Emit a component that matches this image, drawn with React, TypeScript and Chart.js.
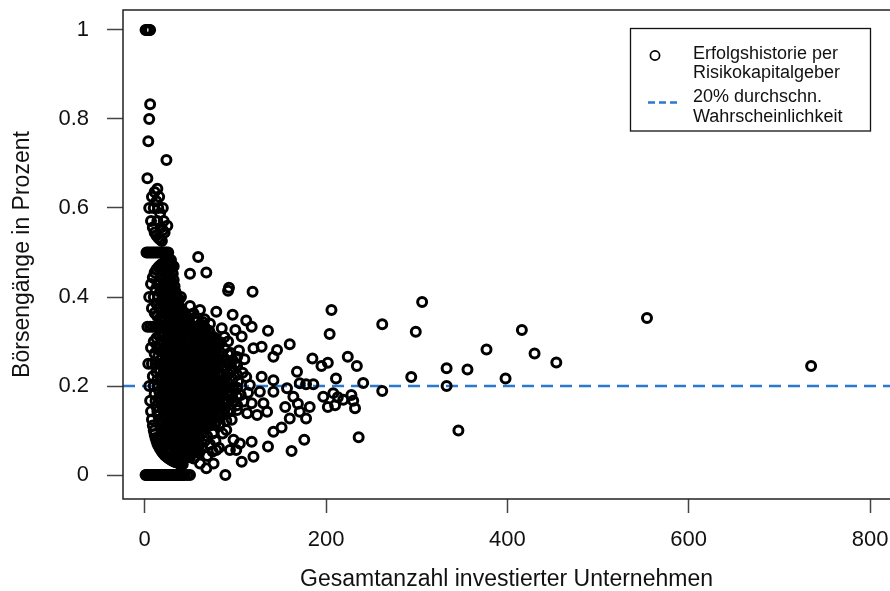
import { useEffect, useRef } from 'react';
import { Chart, registerables } from 'chart.js';

Chart.register(...registerables);

const FONT = '"Liberation Sans", Arial, Helvetica, sans-serif';

// Axis settings
const xTicks = [0, 200, 400, 600, 800];
const yTicks = [0, 0.2, 0.4, 0.6, 0.8, 1];
const xRange = [-23.9, 822];
const yRange = [-0.0539, 1.0449];
const avgRate = 0.2;

const xTitle = 'Gesamtanzahl investierter Unternehmen';
const yTitle = 'Börsengänge in Prozent';
const pointsLabel = ['Erfolgshistorie per', 'Risikokapitalgeber'];
const lineLabel = ['20% durchschn.', 'Wahrscheinlichkeit'];

// Rows: [companies invested, IPO share of investor 1, investor 2, ...]
const smallPortfolios: number[][] = [
  [1, 0, 1],
  [2, 0, 0.5, 1],
  [3, 0, 0.333, 0.667, 1],
  [4, 0, 0.25, 0.5, 0.75, 1],
  [5, 0, 0.2, 0.4, 0.6, 0.8, 1],
  [6, 0, 0.167, 0.333, 0.5, 0.833, 1],
  [7, 0, 0.143, 0.286, 0.429, 0.571],
  [8, 0, 0.125, 0.25, 0.375, 0.5, 0.625],
  [9, 0, 0.111, 0.222, 0.333, 0.444, 0.556],
  [10, 0, 0.1, 0.2, 0.3, 0.4, 0.5, 0.6],
  [11, 0, 0.091, 0.182, 0.273, 0.364, 0.455, 0.545, 0.636],
  [12, 0, 0.083, 0.167, 0.25, 0.333, 0.417, 0.5],
  [13, 0, 0.077, 0.154, 0.231, 0.308, 0.385, 0.462, 0.538, 0.615],
  [14, 0, 0.071, 0.143, 0.214, 0.286, 0.357, 0.429, 0.5, 0.571, 0.643],
  [15, 0, 0.067, 0.133, 0.2, 0.267, 0.333, 0.4, 0.467, 0.533, 0.6],
  [16, 0, 0.063, 0.125, 0.188, 0.25, 0.313, 0.375, 0.438, 0.5, 0.625],
  [17, 0, 0.059, 0.118, 0.176, 0.235, 0.294, 0.353, 0.412, 0.471, 0.529, 0.588],
  [18, 0, 0.056, 0.111, 0.167, 0.222, 0.278, 0.333, 0.389, 0.444, 0.5, 0.556],
  [19, 0, 0.053, 0.105, 0.158, 0.211, 0.263, 0.316, 0.368, 0.421, 0.474, 0.526],
  [20, 0, 0.05, 0.1, 0.15, 0.2, 0.25, 0.3, 0.35, 0.4, 0.45, 0.5, 0.55, 0.6],
];

const midPortfolios: number[][] = [
  [21, 0, 0.048, 0.095, 0.143, 0.19, 0.238, 0.286, 0.333, 0.381, 0.429, 0.476, 0.571],
  [22, 0, 0.045, 0.091, 0.136, 0.182, 0.227, 0.273, 0.318, 0.364, 0.409, 0.455, 0.5, 0.545],
  [23, 0, 0.043, 0.087, 0.13, 0.174, 0.217, 0.261, 0.304, 0.348, 0.391, 0.435, 0.478],
  [24, 0, 0.042, 0.083, 0.125, 0.167, 0.208, 0.25, 0.292, 0.333, 0.375, 0.417, 0.458, 0.5, 0.708],
  [25, 0, 0.04, 0.08, 0.12, 0.16, 0.2, 0.24, 0.28, 0.32, 0.36, 0.4, 0.44, 0.48, 0.56],
  [26, 0, 0.038, 0.077, 0.115, 0.154, 0.192, 0.231, 0.269, 0.308, 0.346, 0.385, 0.423, 0.462, 0.5],
  [27, 0, 0.037, 0.074, 0.111, 0.148, 0.185, 0.222, 0.259, 0.296, 0.333, 0.37, 0.407, 0.444, 0.481],
  [28, 0, 0.036, 0.071, 0.107, 0.143, 0.179, 0.214, 0.25, 0.286, 0.321, 0.357, 0.393, 0.429, 0.464],
  [29, 0, 0.034, 0.069, 0.103, 0.138, 0.172, 0.207, 0.241, 0.276, 0.31, 0.345, 0.379, 0.414, 0.448, 0.483],
  [30, 0, 0.033, 0.067, 0.1, 0.133, 0.167, 0.2, 0.233, 0.267, 0.3, 0.333, 0.367, 0.4, 0.433, 0.467],
  [31, 0, 0.032, 0.065, 0.097, 0.129, 0.161, 0.194, 0.226, 0.258, 0.29, 0.323, 0.355, 0.387, 0.419, 0.452],
  [32, 0, 0.031, 0.063, 0.094, 0.125, 0.156, 0.188, 0.219, 0.25, 0.281, 0.313, 0.344, 0.375, 0.406, 0.438, 0.469],
  [33, 0, 0.03, 0.061, 0.091, 0.121, 0.152, 0.182, 0.212, 0.242, 0.273, 0.303, 0.333, 0.364, 0.394, 0.424],
  [34, 0, 0.029, 0.059, 0.088, 0.118, 0.147, 0.176, 0.206, 0.235, 0.265, 0.294, 0.324, 0.353, 0.382, 0.412],
  [35, 0, 0.029, 0.057, 0.086, 0.114, 0.143, 0.171, 0.2, 0.229, 0.257, 0.286, 0.314, 0.343, 0.371, 0.4],
  [36, 0, 0.028, 0.056, 0.083, 0.111, 0.139, 0.167, 0.194, 0.222, 0.25, 0.278, 0.306, 0.333, 0.361, 0.389],
  [37, 0, 0.027, 0.054, 0.081, 0.108, 0.135, 0.162, 0.189, 0.216, 0.243, 0.27, 0.297, 0.324, 0.351, 0.378],
  [38, 0, 0.026, 0.053, 0.079, 0.105, 0.132, 0.158, 0.184, 0.211, 0.237, 0.263, 0.289, 0.316, 0.342, 0.368, 0.395],
  [39, 0, 0.026, 0.051, 0.077, 0.103, 0.128, 0.154, 0.179, 0.205, 0.231, 0.256, 0.282, 0.308, 0.333, 0.359],
  [40, 0, 0.025, 0.05, 0.075, 0.1, 0.125, 0.15, 0.175, 0.2, 0.225, 0.25, 0.275, 0.3, 0.325, 0.35, 0.375, 0.4],
  [41, 0, 0.024, 0.049, 0.073, 0.098, 0.122, 0.146, 0.171, 0.195, 0.22, 0.244, 0.268, 0.293, 0.317, 0.341, 0.366],
  [42, 0, 0.024, 0.048, 0.071, 0.095, 0.119, 0.143, 0.167, 0.19, 0.214, 0.238, 0.262, 0.286, 0.31, 0.333, 0.357],
];

const largePortfolios: number[][] = [
  [44, 0, 0.045, 0.068, 0.091, 0.114, 0.136, 0.159, 0.182, 0.205, 0.227, 0.25, 0.273, 0.295, 0.318, 0.341, 0.364],
  [46, 0.043, 0.065, 0.087, 0.109, 0.13, 0.152, 0.174, 0.196, 0.217, 0.239, 0.261, 0.283, 0.304, 0.326, 0.348],
  [47, 0],
  [48, 0.042, 0.063, 0.083, 0.104, 0.125, 0.146, 0.167, 0.188, 0.208, 0.229, 0.25, 0.271, 0.292, 0.313, 0.333, 0.354],
  [50, 0, 0.04, 0.06, 0.08, 0.1, 0.12, 0.14, 0.16, 0.18, 0.2, 0.22, 0.24, 0.26, 0.28, 0.3, 0.32, 0.34, 0.36],
  [52, 0.058, 0.077, 0.096, 0.115, 0.135, 0.154, 0.173, 0.192, 0.212, 0.231, 0.25, 0.269, 0.288, 0.308, 0.327],
  [54, 0.037, 0.056, 0.074, 0.093, 0.111, 0.13, 0.148, 0.167, 0.185, 0.204, 0.222, 0.241, 0.259, 0.278, 0.296, 0.315, 0.333, 0.352],
  [56, 0.054, 0.071, 0.089, 0.107, 0.125, 0.143, 0.161, 0.179, 0.196, 0.214, 0.232, 0.25, 0.268, 0.286, 0.304, 0.321],
  [58, 0.052, 0.069, 0.086, 0.103, 0.121, 0.138, 0.155, 0.172, 0.19, 0.207, 0.224, 0.241, 0.259, 0.276, 0.293, 0.31, 0.328, 0.345],
  [60, 0.05, 0.067, 0.083, 0.1, 0.117, 0.133, 0.15, 0.167, 0.183, 0.2, 0.217, 0.233, 0.25, 0.267, 0.283, 0.3, 0.317, 0.333],
  [61, 0.131, 0.164, 0.197, 0.23, 0.262, 0.295, 0.328],
  [62, 0.145, 0.177, 0.21, 0.242, 0.274, 0.306, 0.339],
  [63, 0.063, 0.095, 0.127, 0.159, 0.19, 0.222, 0.254, 0.286, 0.317],
  [64, 0.125, 0.156, 0.188, 0.219, 0.25, 0.281, 0.313, 0.344],
  [65, 0.108, 0.138, 0.169, 0.2, 0.231, 0.262, 0.292, 0.323],
  [66, 0.076, 0.106, 0.136, 0.167, 0.212, 0.242, 0.273, 0.303, 0.333],
  [67, 0.119, 0.149, 0.179, 0.209, 0.239, 0.269, 0.299, 0.328],
  [68, 0.132, 0.162, 0.191, 0.221, 0.25, 0.279, 0.309],
  [69, 0.043, 0.087, 0.116, 0.159, 0.188, 0.217, 0.246, 0.275, 0.304],
  [70, 0.114, 0.143, 0.171, 0.2, 0.229, 0.257, 0.286, 0.314],
  [71, 0.127, 0.155, 0.183, 0.211, 0.239, 0.268, 0.296, 0.324],
  [72, 0.069, 0.111, 0.139, 0.181, 0.208, 0.236, 0.264, 0.292, 0.319],
  [73, 0.137, 0.164, 0.192, 0.219, 0.247, 0.274, 0.301],
  [74, 0.122, 0.149, 0.176, 0.203, 0.23, 0.257, 0.284, 0.311],
  [75, 0.053, 0.093, 0.133, 0.16, 0.2, 0.227, 0.253, 0.28],
  [76, 0.132, 0.158, 0.184, 0.211, 0.237, 0.263, 0.289],
  [77, 0.117, 0.143, 0.169, 0.195, 0.221, 0.247, 0.273, 0.299],
  [78, 0.077, 0.115, 0.154, 0.179, 0.218, 0.244, 0.269, 0.308],
  [80, 0.138, 0.163, 0.188, 0.213, 0.238, 0.263, 0.288],
  [82, 0.061, 0.11, 0.134, 0.171, 0.195, 0.232, 0.256, 0.293],
  [84, 0.131, 0.155, 0.179, 0.202, 0.226, 0.25, 0.274, 0.298],
  [86, 0.093, 0.14, 0.163, 0.186, 0.209, 0.244, 0.267],
  [88, 0.148, 0.17, 0.193, 0.216, 0.239, 0.261, 0.284],
  [90, 0.122, 0.167, 0.2, 0.222, 0.256],
  [92, 0.141, 0.163, 0.185, 0.207, 0.228, 0.25, 0.272],
  [95, 0.147, 0.189, 0.232, 0.274],
  [97, 0.165, 0.196, 0.216, 0.237, 0.258],
  [102, 0.157, 0.176, 0.196, 0.225, 0.245, 0.265],
];

// Individual investors: [companies invested, IPO share]
const scatteredInvestors: number[][] = [
  [50, 0.452], [59, 0.49], [68, 0.455], [92, 0.414], [93, 0.421], [119, 0.412],
  [50, 0.38], [54, 0.363], [61, 0.371], [79, 0.367], [97, 0.36], [66, 0.35], [72, 0.34],
  [112, 0.347], [118, 0.333], [85, 0.33], [100, 0.326], [136, 0.324], [107, 0.311], [88, 0.31],
  [75, 0.31], [80, 0.3], [92, 0.3], [120, 0.285], [129, 0.288], [146, 0.281], [160, 0.294],
  [104, 0.28], [110, 0.26], [100, 0.25], [108, 0.23], [103, 0.21], [112, 0.22], [99, 0.19],
  [106, 0.18], [114, 0.185],
  [142, 0.266], [168, 0.232], [129, 0.221], [142, 0.213], [116, 0.202], [127, 0.187],
  [142, 0.187], [157, 0.195], [164, 0.176], [109, 0.165], [118, 0.161], [131, 0.161],
  [102, 0.146], [113, 0.139], [124, 0.135], [135, 0.142], [142, 0.097], [151, 0.107],
  [136, 0.064], [162, 0.054], [98, 0.079], [105, 0.071], [118, 0.075], [101, 0.056],
  [107, 0.03], [120, 0.041], [89, 0], [68, 0.015], [61, 0.026], [76, 0.026], [79, 0.056],
  [94, 0.056], [90, 0.101], [96, 0.124], [83, 0.116],
  [160, 0.127], [155, 0.153], [169, 0.16], [182, 0.153], [171, 0.142], [178, 0.127], [176, 0.079],
  [171, 0.206], [178, 0.204], [186, 0.204], [185, 0.262], [195, 0.245], [202, 0.252],
  [211, 0.217], [224, 0.266], [234, 0.245], [241, 0.207], [197, 0.176], [208, 0.184],
  [213, 0.175], [219, 0.169], [228, 0.18], [230, 0.167], [202, 0.153], [210, 0.157],
  [232, 0.15], [236, 0.085],
  [206, 0.371], [204, 0.317], [262, 0.339], [262, 0.189], [294, 0.22], [299, 0.322],
  [306, 0.389], [333, 0.24], [333, 0.2], [346, 0.1], [356, 0.237], [377, 0.282],
  [398, 0.217], [416, 0.326], [430, 0.273], [454, 0.253], [554, 0.353], [735, 0.245],
];

function rowsToPoints(rows: number[][]) {
  const out: { x: number; y: number }[] = [];
  for (const row of rows) {
    for (let i = 1; i < row.length; i++) out.push({ x: row[0], y: row[i] });
  }
  return out;
}

const frameLegendPlugin = {
  id: 'frameLegend',
  afterDraw(chart: any) {
    const { ctx, chartArea: a } = chart;
    const lineDs = chart.data.datasets[1];
    const ptDs = chart.data.datasets[0];
    ctx.save();
    // plot frame (top, left, bottom)
    ctx.strokeStyle = '#222';
    ctx.lineWidth = 1.5;
    ctx.beginPath();
    ctx.moveTo(a.right, a.top);
    ctx.lineTo(a.left, a.top);
    ctx.lineTo(a.left, a.bottom);
    ctx.lineTo(a.right, a.bottom);
    ctx.stroke();

    // legend box
    const lx = a.right - 260;
    const ly = a.top + 18.5;
    ctx.lineWidth = 1.3;
    ctx.strokeStyle = '#111';
    ctx.strokeRect(lx + 0.5, ly, 240, 102.5);

    ctx.beginPath();
    ctx.arc(lx + 25, ly + 27, 4.6, 0, Math.PI * 2);
    ctx.lineWidth = 1.7;
    ctx.strokeStyle = ptDs.borderColor;
    ctx.stroke();

    ctx.setLineDash([7, 4]);
    ctx.strokeStyle = lineDs.borderColor;
    ctx.lineWidth = 2.5;
    ctx.beginPath();
    ctx.moveTo(lx + 18, ly + 74);
    ctx.lineTo(lx + 47, ly + 74);
    ctx.stroke();
    ctx.setLineDash([]);

    ctx.fillStyle = '#111';
    ctx.font = `18px ${FONT}`;
    ctx.textAlign = 'left';
    ctx.textBaseline = 'alphabetic';
    ctx.fillText(pointsLabel[0], lx + 63, ly + 30);
    ctx.fillText(pointsLabel[1], lx + 63, ly + 49);
    ctx.fillText(lineLabel[0], lx + 63, ly + 73.5);
    ctx.fillText(lineLabel[1], lx + 63, ly + 93.5);
    ctx.restore();
  },
};

export default function App() {
  const ref = useRef<HTMLCanvasElement>(null);

  useEffect(() => {
    const canvas = ref.current;
    if (!canvas) return;
    const points = [
      ...rowsToPoints(smallPortfolios),
      ...rowsToPoints(midPortfolios),
      ...rowsToPoints(largePortfolios),
      ...scatteredInvestors.map(([x, y]) => ({ x, y })),
    ];

    const tickFont = { family: FONT, size: 22 };
    const titleFont = { family: FONT, size: 23, lineHeight: 1 };

    const chart = new Chart(canvas, {
      type: 'scatter',
      data: {
        datasets: [
          {
            type: 'scatter',
            label: pointsLabel.join(' '),
            data: points,
            pointStyle: 'circle',
            pointRadius: 4.5,
            pointBorderWidth: 3,
            borderColor: '#000',
            backgroundColor: 'rgba(0,0,0,0)',
            pointBackgroundColor: 'rgba(0,0,0,0)',
            pointBorderColor: '#000',
            order: 1,
          } as any,
          {
            type: 'line',
            label: lineLabel.join(' '),
            data: [
              { x: xRange[0], y: avgRate },
              { x: xRange[1], y: avgRate },
            ],
            borderColor: '#2b78d0',
            borderWidth: 2.5,
            borderDash: [12, 7],
            pointRadius: 0,
            showLine: true,
            fill: false,
            order: 2,
          } as any,
        ],
      },
      options: {
        responsive: false,
        animation: false,
        devicePixelRatio: 1,
        layout: { autoPadding: false, padding: { top: 10, left: 0, right: 0, bottom: 0 } },
        plugins: {
          legend: { display: false },
          tooltip: { enabled: false },
        },
        events: [],
        scales: {
          x: {
            type: 'linear',
            min: xRange[0],
            max: xRange[1],
            afterBuildTicks: (s: any) => {
              s.ticks = xTicks.map((value) => ({ value }));
            },
            afterFit: (s: any) => {
              s.height = 92;
              s.paddingLeft = 0;
              s.paddingRight = 0;
              s.paddingTop = 0;
              s.paddingBottom = 0;
            },
            ticks: {
              font: tickFont,
              color: '#111',
              padding: 14,
              maxRotation: 0,
              autoSkip: false,
              callback: (v: any) => String(v),
            },
            grid: {
              drawOnChartArea: false,
              drawTicks: true,
              tickLength: 14,
              tickColor: '#444',
              tickWidth: 1.5,
            },
            border: { display: false },
            title: {
              display: true,
              text: xTitle,
              font: titleFont,
              color: '#111',
              padding: { top: 0, bottom: 0 },
            },
          },
          y: {
            type: 'linear',
            min: yRange[0],
            max: yRange[1],
            afterBuildTicks: (s: any) => {
              s.ticks = yTicks.map((value) => ({ value }));
            },
            afterFit: (s: any) => {
              s.width = 123;
              s.paddingLeft = 0;
              s.paddingRight = 0;
              s.paddingTop = 0;
              s.paddingBottom = 0;
            },
            ticks: {
              font: tickFont,
              color: '#111',
              padding: 18,
              autoSkip: false,
              callback: (v: any) => String(Math.round(Number(v) * 10) / 10),
            },
            grid: {
              drawOnChartArea: false,
              drawTicks: true,
              tickLength: 16,
              tickColor: '#444',
              tickWidth: 1.5,
            },
            border: { display: false },
            title: {
              display: true,
              text: yTitle,
              font: titleFont,
              color: '#111',
              padding: { top: 11, bottom: 0 },
            },
          },
        },
      },
      plugins: [frameLegendPlugin],
    });

    return () => chart.destroy();
  }, []);

  return (
    <canvas
      ref={ref}
      width={890}
      height={591}
      style={{ position: 'absolute', left: 0, top: 0, width: 890, height: 591, display: 'block' }}
    />
  );
}
